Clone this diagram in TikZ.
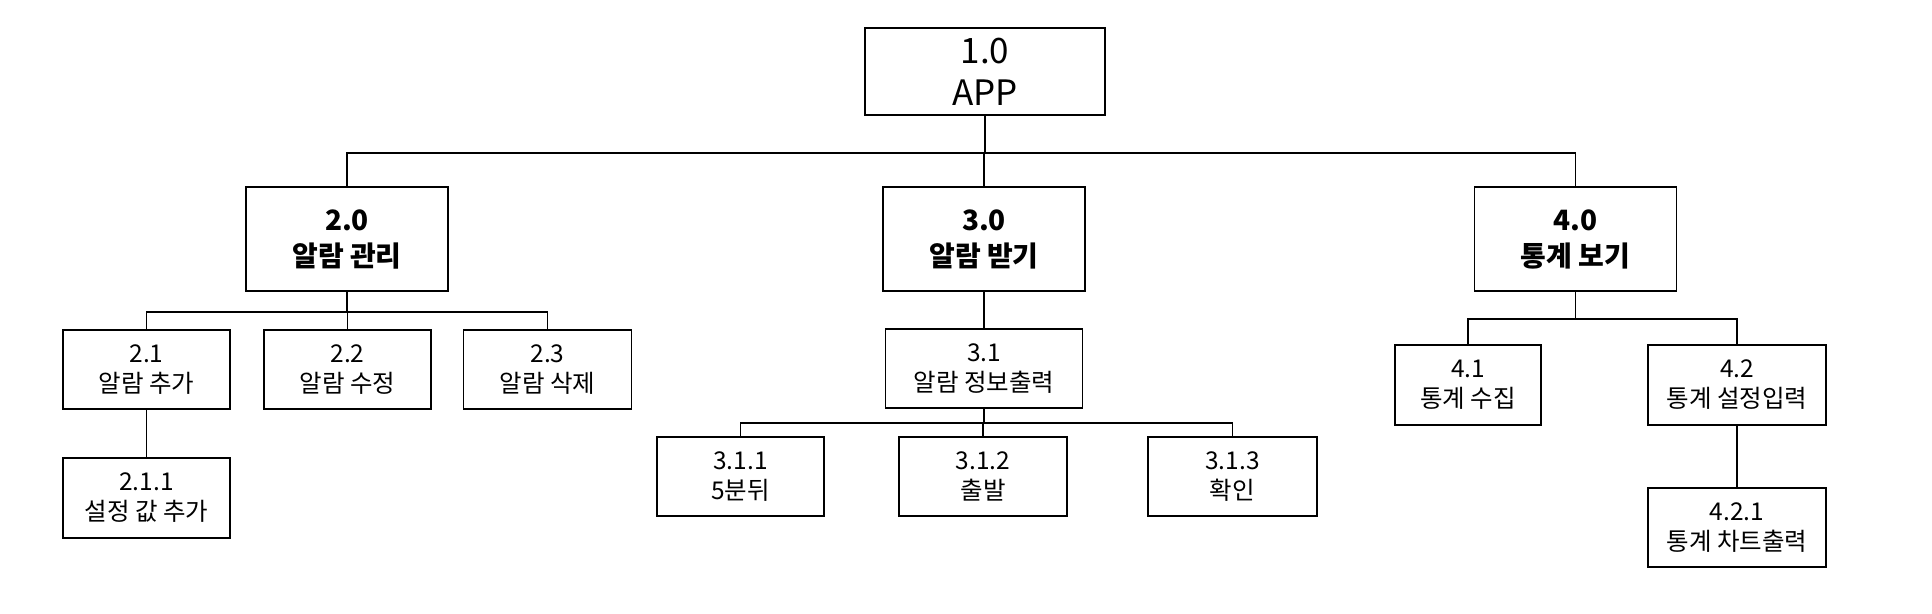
\documentclass[tikz,border=0pt]{standalone}
\usepackage{fontspec}
\setmainfont{Noto Sans CJK KR}
\begin{document}
\begin{tikzpicture}[x=1pt,y=-1pt]
\tikzset{
  box/.style={draw, line width=1.9pt, inner sep=0pt, align=center, font=\fontsize{24.5}{30}\selectfont},
  topbox/.style={box, font=\fontsize{35}{42}\selectfont},
  midbox/.style={box, font=\bfseries\fontsize{28}{36}\selectfont},
  conn/.style={line width=1.9pt}
}
\fill[white] (0,0) rectangle (1932,613);
\useasboundingbox (0,0) rectangle (1932,613);
% level 0
\node[topbox, minimum width=240pt, minimum height=87pt] (n1) at (985,71.5) {1.0\\APP};
% level 1
\node[midbox, minimum width=202pt, minimum height=104pt] (n2) at (347,239) {2.0\\알람 관리};
\node[midbox, minimum width=202pt, minimum height=104pt] (n3) at (984,239) {3.0\\알람 받기};
\node[midbox, minimum width=202pt, minimum height=104pt] (n4) at (1575.5,239) {4.0\\통계 보기};
% level 2 under 2.0
\node[box, minimum width=167pt, minimum height=79pt] (n21) at (146.5,369.5) {2.1\\알람 추가};
\node[box, minimum width=167pt, minimum height=79pt] (n22) at (347.5,369.5) {2.2\\알람 수정};
\node[box, minimum width=168pt, minimum height=79pt] (n23) at (547.5,369.5) {2.3\\알람 삭제};
\node[box, minimum width=167pt, minimum height=80pt] (n211) at (146.5,498) {2.1.1\\설정 값 추가};
% under 3.0
\node[box, minimum width=197pt, minimum height=79pt] (n31) at (984,368.5) {3.1\\알람 정보출력};
\node[box, minimum width=167pt, minimum height=79pt] (n311) at (740.5,476.5) {3.1.1\\5분뒤};
\node[box, minimum width=168pt, minimum height=79pt] (n312) at (983,476.5) {3.1.2\\출발};
\node[box, minimum width=169pt, minimum height=79pt] (n313) at (1232.5,476.5) {3.1.3\\확인};
% under 4.0
\node[box, minimum width=146pt, minimum height=80pt] (n41) at (1468,385) {4.1\\통계 수집};
\node[box, minimum width=178pt, minimum height=80pt] (n42) at (1737,385) {4.2\\통계 설정입력};
\node[box, minimum width=178pt, minimum height=79pt] (n421) at (1737,527.5) {4.2.1\\통계 차트출력};
% connectors
\foreach \c in {n2,n3,n4} \draw[conn] (n1.south) -- ++(0,37) -| (\c.north);
\foreach \c in {n21,n22,n23} \draw[conn] (n2.south) -- ++(0,20) -| (\c.north);
\draw[conn] (n21.south) -- (n211.north);
\draw[conn] (n3.south) -- (n31.north);
\foreach \c in {n311,n312,n313} \draw[conn] (n31.south) -- ++(0,14) -| (\c.north);
\foreach \c in {n41,n42} \draw[conn] (n4.south) -- ++(0,27) -| (\c.north);
\draw[conn] (n42.south) -- (n421.north);
\end{tikzpicture}
\end{document}
